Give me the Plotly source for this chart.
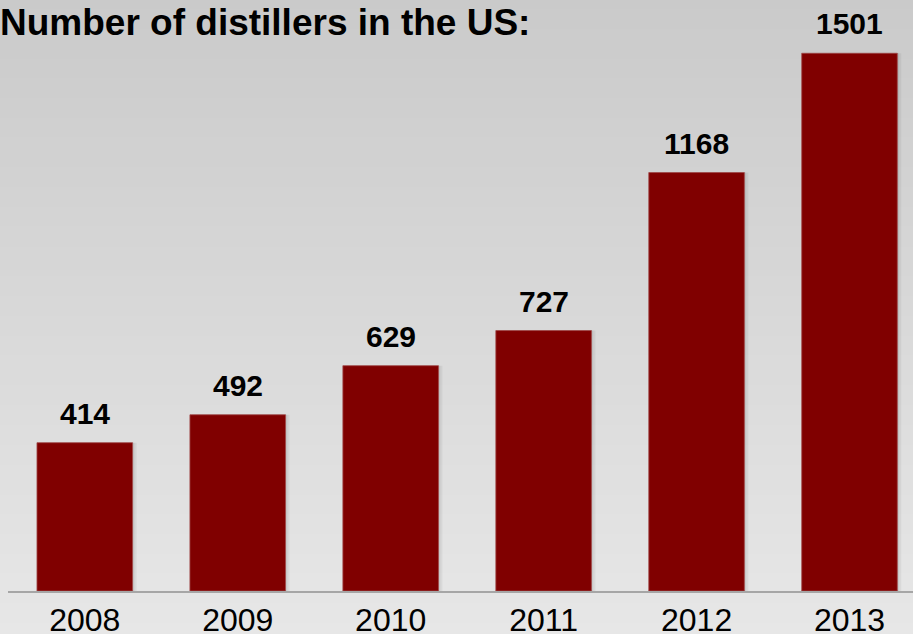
import plotly.graph_objects as go

# Number of distillers in the US, by year
years = ["2008", "2009", "2010", "2011", "2012", "2013"]
distillers = [414, 492, 629, 727, 1168, 1501]

W, H = 913, 634
M_L, M_R, M_T, M_B = 8, 0, 40, 43

BAR_COLOR = "#800000"
FONT = "Liberation Sans, Arial, sans-serif"
BAR_W = 0.625

fig = go.Figure()

# soft drop shadow behind each bar (two faint layers)
for shift, alpha in [(0.012, 0.07), (0.026, 0.05)]:
    fig.add_trace(go.Bar(
        x=years, y=distillers,
        width=BAR_W, offset=-BAR_W / 2 + shift,
        marker=dict(color=f"rgba(0,0,0,{alpha})", line=dict(width=0)),
        hoverinfo="skip", showlegend=False,
    ))

fig.add_trace(go.Bar(
    x=years, y=distillers,
    width=BAR_W, offset=-BAR_W / 2,
    marker=dict(color=BAR_COLOR, line=dict(color="#a04848", width=0.8)),
    showlegend=False,
))

# value labels above the bars (category axis positions given by index)
for i, v in enumerate(distillers):
    fig.add_annotation(
        x=i, y=v, xref="x", yref="y", text=f"<b>{v}</b>", showarrow=False,
        xanchor="center", yanchor="bottom", yshift=11,
        font=dict(family=FONT, size=30, color="#000000"),
    )

# vertical background gradient: darker grey at the top, lighter toward the bottom
plot_h = H - M_T - M_B
base_px = H - M_B
n_bands = 64
top_val, bot_val = 202, 231
shapes = []
for i in range(n_bands):
    py0 = H * i / n_bands
    py1 = H * (i + 1) / n_bands
    t = (i + 0.5) / n_bands
    g = round(top_val + (bot_val - top_val) * t)
    shapes.append(dict(
        type="rect", xref="paper", yref="paper", layer="below",
        x0=-M_L / (W - M_L - M_R) - 0.01, x1=1.01,
        y0=(base_px - py1) / plot_h, y1=(base_px - py0) / plot_h + 0.002,
        fillcolor=f"rgb({g},{g},{g})", line=dict(width=0),
    ))

fig.update_layout(
    width=W, height=H,
    margin=dict(l=M_L, r=M_R, t=M_T, b=M_B, pad=0, autoexpand=False),
    paper_bgcolor="rgb(216,216,216)",
    plot_bgcolor="rgba(0,0,0,0)",
    barmode="overlay",
    shapes=shapes,
    title=dict(
        text="<b>Number of distillers in the US:</b>",
        xref="container", yref="container",
        x=0, xanchor="left", y=1 - 22 / H, yanchor="middle",
        pad=dict(l=0, r=0, t=0, b=0),
        font=dict(family=FONT, size=37, color="#000000"),
    ),
    xaxis=dict(
        type="category", range=[-0.502, 5.415],
        automargin=False,
        showline=True, linecolor="#a6a6a6", linewidth=2,
        showgrid=False, zeroline=False, ticks="",
        ticklabelstandoff=0,
        tickfont=dict(family=FONT, size=32, color="#000000"),
        fixedrange=True,
    ),
    yaxis=dict(
        visible=False, range=[0, 1538], fixedrange=True, automargin=False,
    ),
    showlegend=False,
)

fig.write_html("out.html")
